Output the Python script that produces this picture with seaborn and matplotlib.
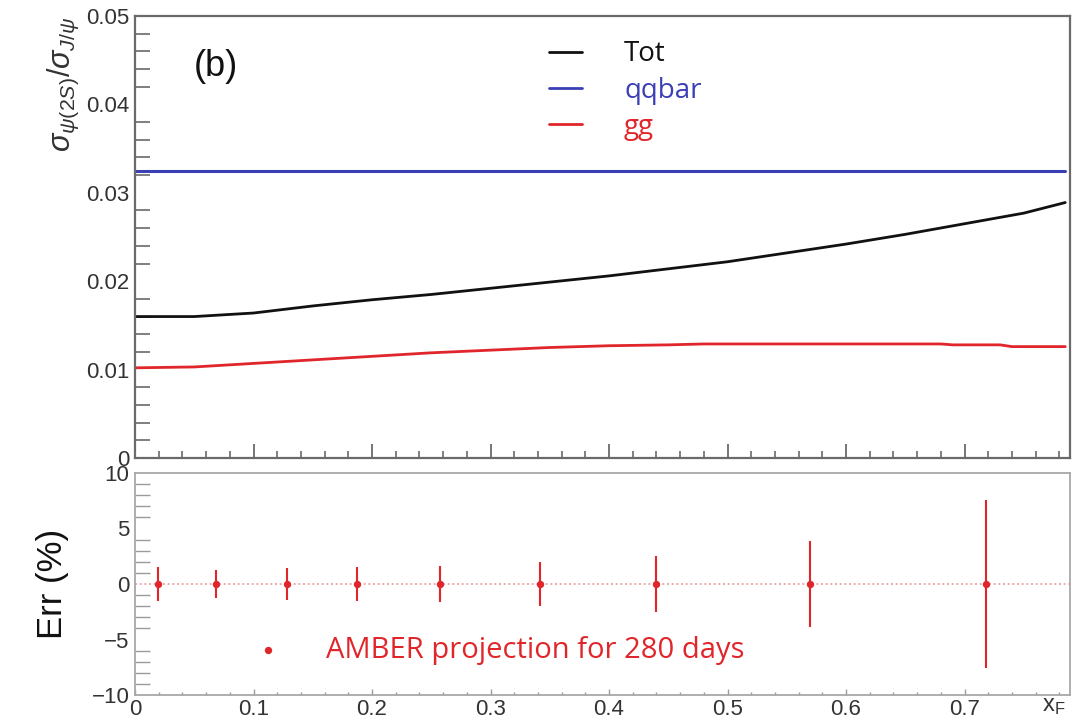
import numpy as np
import pandas as pd
import matplotlib
matplotlib.use("Agg")
import matplotlib.pyplot as plt
import matplotlib.ticker as mticker
import seaborn as sns

# ---------------- data ----------------
xf_tot = [0.0, 0.05, 0.10, 0.15, 0.20, 0.25, 0.30, 0.35, 0.40, 0.45, 0.50,
          0.55, 0.60, 0.65, 0.70, 0.75, 0.785]
ratio_tot = [0.0160, 0.0160, 0.0164, 0.0172, 0.0179, 0.0185, 0.0192, 0.0199,
             0.0206, 0.0214, 0.0222, 0.0232, 0.0242, 0.0253, 0.0265, 0.0277, 0.0289]

xf_qq = [0.0, 0.785]
ratio_qq = [0.0325, 0.0325]

xf_gg = [0.0, 0.05, 0.10, 0.15, 0.20, 0.25, 0.30, 0.35, 0.40, 0.45, 0.48,
         0.55, 0.60, 0.68, 0.69, 0.73, 0.74, 0.785]
ratio_gg = [0.0102, 0.0103, 0.0107, 0.0111, 0.0115, 0.0119, 0.0122, 0.0125,
            0.0127, 0.0128, 0.0129, 0.0129, 0.0129, 0.0129, 0.0128, 0.0128,
            0.0126, 0.0126]

xf_amber = [0.019, 0.068, 0.128, 0.187, 0.257, 0.342, 0.440, 0.570, 0.718]
err_amber = [0.0, 0.0, 0.0, 0.0, 0.0, 0.0, 0.0, 0.0, 0.0]
err_size = [1.5, 1.25, 1.45, 1.5, 1.6, 2.0, 2.5, 3.9, 7.6]

top_yticks = [0.0, 0.01, 0.02, 0.03, 0.04, 0.05]
top_ylabels = ["0", "0.01", "0.02", "0.03", "0.04", "0.05"]
bot_yticks = [-10, -5, 0, 5, 10]
bot_ylabels = ["\u221210", "\u22125", "0", "5", "10"]
xticks = [0.0, 0.1, 0.2, 0.3, 0.4, 0.5, 0.6, 0.7]
xlabels = ["0", "0.1", "0.2", "0.3", "0.4", "0.5", "0.6", "0.7"]

# ---------------- style ----------------
sns.set_style("white")
plt.rcParams["font.family"] = ["Liberation Sans", "DejaVu Sans"]
plt.rcParams["mathtext.fontset"] = "custom"
plt.rcParams["mathtext.rm"] = "Liberation Sans"
plt.rcParams["mathtext.it"] = "Liberation Sans:italic"

BLACK = "#111111"
BLUE = "#3b3fb5"
RED = "#e0262b"
SPINE = "#6a6a6a"
TICKLAB = "#333333"

W, H = 1079, 722
fig = plt.figure(figsize=(W / 100, H / 100), dpi=100)

def fx(px):
    return px / W

def fy(py):
    return 1 - py / H

left, right = 135, 1070
ax_top = fig.add_axes([fx(left), fy(458), fx(right - left), fy(16) - fy(458)])
ax_bot = fig.add_axes([fx(left), fy(695), fx(right - left), fy(473) - fy(695)])

XMAX = 0.789

# ---------------- top panel ----------------
df_tot = pd.DataFrame({"xF": xf_tot, "ratio": ratio_tot})
df_qq = pd.DataFrame({"xF": xf_qq, "ratio": ratio_qq})
df_gg = pd.DataFrame({"xF": xf_gg, "ratio": ratio_gg})

sns.lineplot(data=df_tot, x="xF", y="ratio", ax=ax_top, color=BLACK, lw=2.0,
             estimator=None, sort=False, label="Tot")
sns.lineplot(data=df_qq, x="xF", y="ratio", ax=ax_top, color=BLUE, lw=2.2,
             estimator=None, sort=False, label="qqbar")
sns.lineplot(data=df_gg, x="xF", y="ratio", ax=ax_top, color=RED, lw=2.0,
             estimator=None, sort=False, label="gg")

ax_top.set_xlim(0, XMAX)
ax_top.set_ylim(0, 0.05)
ax_top.set_yticks(top_yticks)
ax_top.set_yticklabels(top_ylabels)
ax_top.yaxis.set_minor_locator(mticker.MultipleLocator(0.002))
ax_top.set_xticks(xticks)
ax_top.set_xticklabels([])
ax_top.xaxis.set_minor_locator(mticker.MultipleLocator(0.02))
ax_top.tick_params(axis="y", which="major", direction="in", length=20, width=1.3,
                   color=SPINE, labelsize=16, labelcolor=TICKLAB, pad=4)
ax_top.tick_params(axis="y", which="minor", direction="in", length=11, width=1.2,
                   color=SPINE, left=True)
ax_top.tick_params(axis="x", which="major", direction="in", length=10, width=1.3,
                   color=SPINE, bottom=True)
ax_top.tick_params(axis="x", which="minor", direction="in", length=5, width=1.2,
                   color=SPINE, bottom=True)
for s in ax_top.spines.values():
    s.set_color(SPINE)
    s.set_linewidth(1.6)
ax_top.set_xlabel("")
ax_top.set_ylabel(r"$\sigma_{\psi(2S)}/\sigma_{J/\psi}$", fontsize=22,
                  color=TICKLAB, loc="top", labelpad=4)

leg = ax_top.legend(loc="upper left", bbox_to_anchor=(0.428, 0.976),
                    frameon=False, handlelength=1.2,
                    handletextpad=1.5, labelspacing=0.30, borderpad=0,
                    labelcolor="linecolor", prop={"family": "Open Sans", "size": 20})
for h in leg.get_lines():
    h.set_linewidth(2.0)

ax_top.text(0.063, 0.885, "(b)", transform=ax_top.transAxes, fontsize=26,
            color=BLACK, ha="left", va="center")

# ---------------- bottom panel ----------------
ax_bot.axhline(0, color="#e8a0a0", lw=1.2, ls=(0, (1.2, 1.6)), zorder=1)
ax_bot.errorbar(xf_amber, err_amber, yerr=err_size, fmt="none", ecolor=RED,
                elinewidth=1.5, capsize=0, zorder=2)
df_amb = pd.DataFrame({"xF": xf_amber, "err": err_amber})
sns.scatterplot(data=df_amb, x="xF", y="err", ax=ax_bot, color=RED, s=28,
                marker="o", edgecolor=RED, linewidth=0, zorder=3,
                label="AMBER projection for 280 days")

ax_bot.set_xlim(0, XMAX)
ax_bot.set_ylim(-10, 10)
ax_bot.set_yticks(bot_yticks)
ax_bot.set_yticklabels(bot_ylabels)
ax_bot.yaxis.set_minor_locator(mticker.MultipleLocator(1))
ax_bot.set_xticks(xticks)
ax_bot.set_xticklabels(xlabels)
ax_bot.xaxis.set_minor_locator(mticker.MultipleLocator(0.02))
ax_bot.tick_params(axis="y", which="major", direction="in", length=20, width=1.0,
                   color="#9a9a9a", labelsize=16, labelcolor=TICKLAB, pad=4)
ax_bot.tick_params(axis="y", which="minor", direction="in", length=11, width=1.0,
                   color="#9a9a9a", left=True)
ax_bot.tick_params(axis="x", which="major", direction="in", length=4, width=1.0,
                   color="#9a9a9a", labelsize=16, labelcolor=TICKLAB, pad=3,
                   bottom=True)
ax_bot.tick_params(axis="x", which="minor", direction="in", length=2, width=1.0,
                   color="#9a9a9a", bottom=True)
for s in ax_bot.spines.values():
    s.set_color("#a8a8a8")
    s.set_linewidth(1.3)
ax_bot.set_ylabel("Err (%)", fontsize=25, color=BLACK, labelpad=16)
ax_bot.set_xlabel(r"$\mathrm{x_F}$", fontsize=17, color=TICKLAB)
ax_bot.xaxis.set_label_coords(0.995, 0.0)
ax_bot.xaxis.label.set_horizontalalignment("right")
ax_bot.xaxis.label.set_verticalalignment("top")

ax_bot.legend(loc="center left", bbox_to_anchor=(0.095, 0.2), frameon=False,
              handletextpad=1.0, borderpad=0, labelcolor=RED, markerscale=1.0,
              prop={"family": "Open Sans", "size": 21})

fig.savefig("out.png", dpi=100)
